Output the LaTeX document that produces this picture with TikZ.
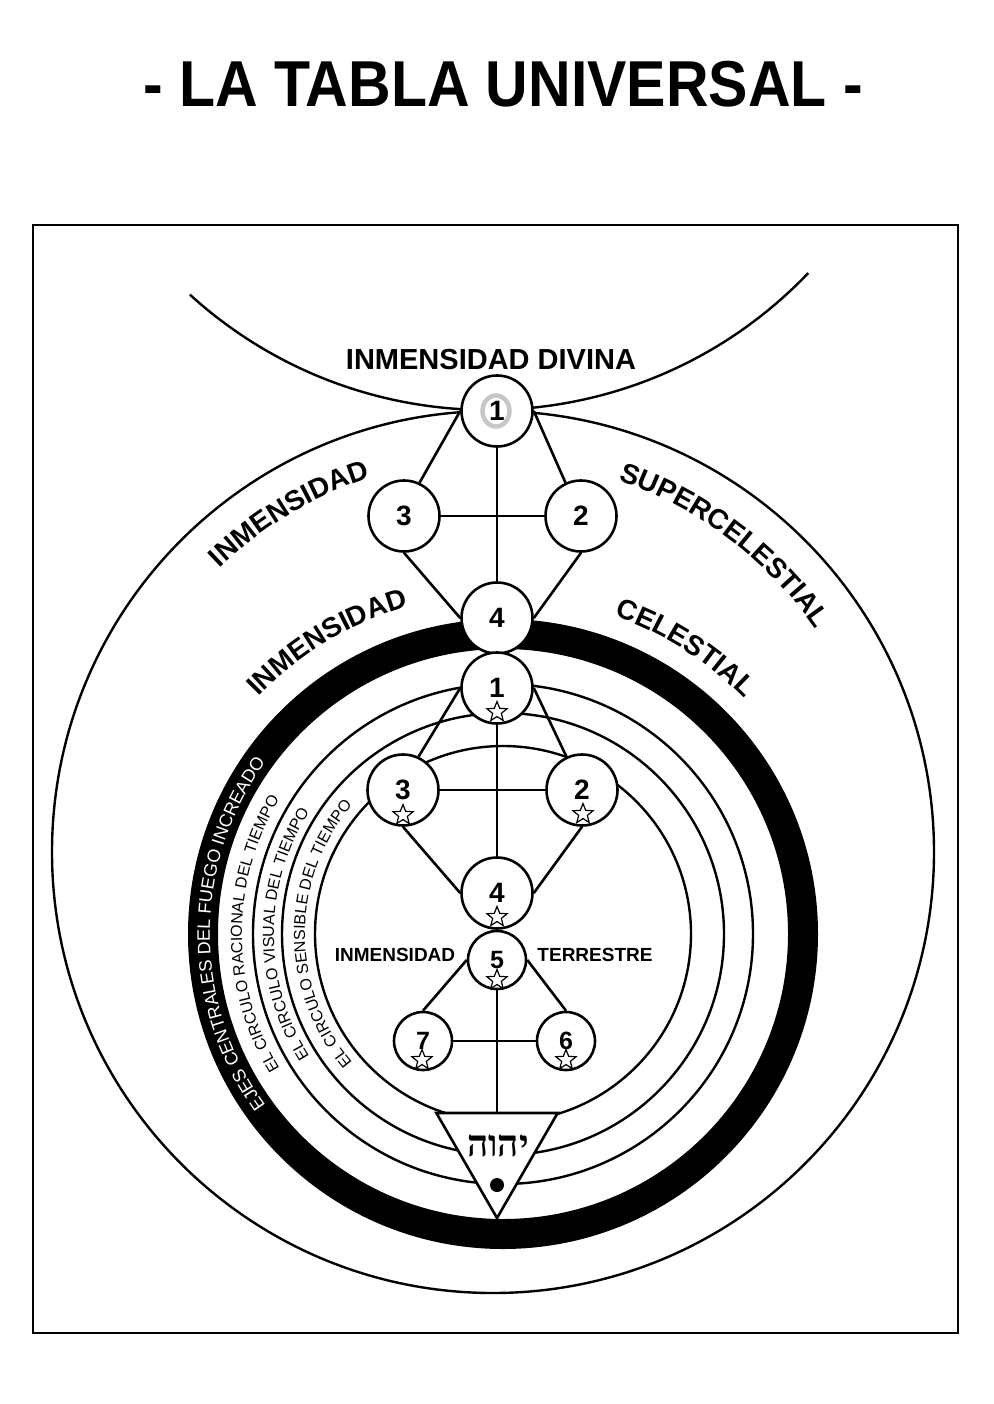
\documentclass[tikz,border=0pt]{standalone}
\usepackage{fontspec}
\setmainfont{Liberation Sans}
\newfontfamily\hebfont[Script=Hebrew]{Liberation Serif}
\usetikzlibrary{shapes.geometric,decorations.text}
\TeXXeTstate=1
\newcommand{\fs}[1]{\fontsize{#1}{#1}\selectfont}
\pgfdeclarelayer{bg}
\pgfsetlayers{bg,main}
\begin{document}
\begin{tikzpicture}[x=1pt,y=1pt,
  ln/.style={line width=2.6pt},
  circ/.style={line width=2.4pt},
  bignd/.style={circle, draw, fill=white, line width=2.6pt, minimum size=71pt, inner sep=0pt, font=\bfseries\fs{28}},
  smallnd/.style={circle, draw, fill=white, line width=2.6pt, minimum size=58pt, inner sep=0pt, font=\bfseries\fs{25}},
  stargl/.style={star, star points=5, star point ratio=2.3, draw, fill=white, line width=1.2pt, minimum size=21pt, inner sep=0pt},
  tri/.style={regular polygon, regular polygon sides=3, shape border rotate=180, draw, fill=white, line width=2.6pt, minimum size=140pt, inner sep=0pt},
  lbl/.style={font=\bfseries\fs{19}},
]
\useasboundingbox (0,0) rectangle (993,-1404);

% title
\node[font=\bfseries\fs{59}] (title) at (503,-84) {\scalebox{1}[1.1]{- LA TABLA UNIVERSAL -}};

% nodes upper tree
\node[bignd] (u1) at (497,-411) {};
\node[draw=gray!45, line width=4.5pt, ellipse, minimum width=27pt, minimum height=31pt, inner sep=0pt] (u1o) at (496,-411) {};
\node[font=\bfseries\fs{28}] (u1t) at (497,-411) {1};
\node[bignd] (u3) at (404,-516) {3};
\node[bignd] (u2) at (581,-516) {2};
\node[bignd] (u4) at (497,-618) {4};

% nodes lower tree
\node[bignd] (l1) at (497,-688) {1};
\node[bignd] (l3) at (403,-790) {3};
\node[bignd] (l2) at (582,-790) {2};
\node[bignd] (l4) at (497,-893) {4};
\node[smallnd] (l5) at (497,-960) {5};
\node[smallnd] (l7) at (423,-1041) {7};
\node[smallnd] (l6) at (566,-1041) {6};
\node[tri] (tri) at (497,-1148) {};

% stars
\node[stargl] (s1) at (497,-712) {};
\node[stargl] (s3) at (403,-815) {};
\node[stargl] (s2) at (583,-814) {};
\node[stargl] (s4) at (497,-917) {};
\node[stargl] (s5) at (497,-980) {};
\node[stargl] (s7) at (422,-1060) {};
\node[stargl] (s6) at (566,-1060) {};

% Hebrew name and dot
\node[font=\hebfont\bfseries\fs{37}] (heb) at (498,-1146) {\beginR יהוה\endR};
\node[circle, fill=black, minimum size=14pt, inner sep=0pt] (dot) at (497,-1185) {};

\begin{pgfonlayer}{bg}
  \draw[line width=2.8pt] (33,-225) rectangle (958,-1333);
  \draw[circ] (488,33) ++(227.7:443) arc[start angle=227.7, end angle=316.3, radius=443];
  \draw[circ] (493,-852) circle[radius=441];
  \draw[line width=30pt] (503,-934) circle[radius=300];
  \draw[circ] (503,-934) circle[radius=250];
  \draw[circ] (503,-934) circle[radius=221];
  \draw[circ] (503,-934) circle[radius=188];
  % upper tree connectors
  \draw[ln] (u1) -- (u4);
  \draw[ln] (u3) -- (u2);
  \draw[ln] (u1.west) -- (u3.65);
  \draw[ln] (u1.east) -- (u2.115);
  \draw[ln] (u3.south) -- (u4.west);
  \draw[ln] (u2.south) -- (u4.east);
  % lower tree connectors
  \draw[ln] (l1) -- (l4);
  \draw[ln] (l3) -- (l2);
  \draw[ln] (l1.west) -- (l3.65);
  \draw[ln] (l1.east) -- (l2.115);
  \draw[ln] (l3.south) -- (l4.west);
  \draw[ln] (l2.south) -- (l4.east);
  \draw[ln] (l5.west) -- (l7.north);
  \draw[ln] (l5.east) -- (l6.north);
  \draw[ln] (l7) -- (l6);
  \draw[ln] (l5) -- (tri);
\end{pgfonlayer}

% straight labels
\node[font=\bfseries\fs{29}] (divina) at (491,-360) {INMENSIDAD DIVINA};
\node[lbl] (inmt) at (395,-955) {INMENSIDAD};
\node[lbl] (terr) at (595,-955) {TERRESTRE};

% curved labels
\path[decorate, decoration={text along path, text={|\bfseries\fs{28}|INMENSIDAD}, text align=center}]
  (493,-852) ++(161:394) arc[start angle=161, end angle=81, radius=394];
\path[decorate, decoration={text along path, text={|\bfseries\fs{28}|SUPERCELESTIAL}, text align=center}]
  (493,-852) ++(98:392) arc[start angle=98, end angle=8, radius=392];
\path[decorate, decoration={text along path, text={|\bfseries\fs{28}|INMENSIDAD}, text align=center}]
  (503,-934) ++(161:341) arc[start angle=161, end angle=81, radius=341];
\path[decorate, decoration={text along path, text={|\bfseries\fs{28}|CELESTIAL}, text align=center}]
  (503,-934) ++(100:337) arc[start angle=100, end angle=15, radius=337];

\path[decorate, decoration={text along path, text color=white, text={|\fs{18}|EJES CENTRALES DEL FUEGO INCREADO}, text align=center}]
  (503,-934) ++(240:293) arc[start angle=240, end angle=120, radius=293];
\path[decorate, decoration={text along path, text={|\fs{16}|EL CIRCULO RACIONAL DEL TIEMPO}, text align=center}]
  (503,-934) ++(240:261) arc[start angle=240, end angle=120, radius=261];
\path[decorate, decoration={text along path, text={|\fs{16}|EL CIRCULO VISUAL DEL TIEMPO}, text align=center}]
  (503,-934) ++(240:229) arc[start angle=240, end angle=120, radius=229];
\path[decorate, decoration={text along path, text={|\fs{16}|EL CIRCULO SENSIBLE DEL TIEMPO}, text align=center}]
  (503,-934) ++(240:198) arc[start angle=240, end angle=120, radius=198];
\end{tikzpicture}
\end{document}
